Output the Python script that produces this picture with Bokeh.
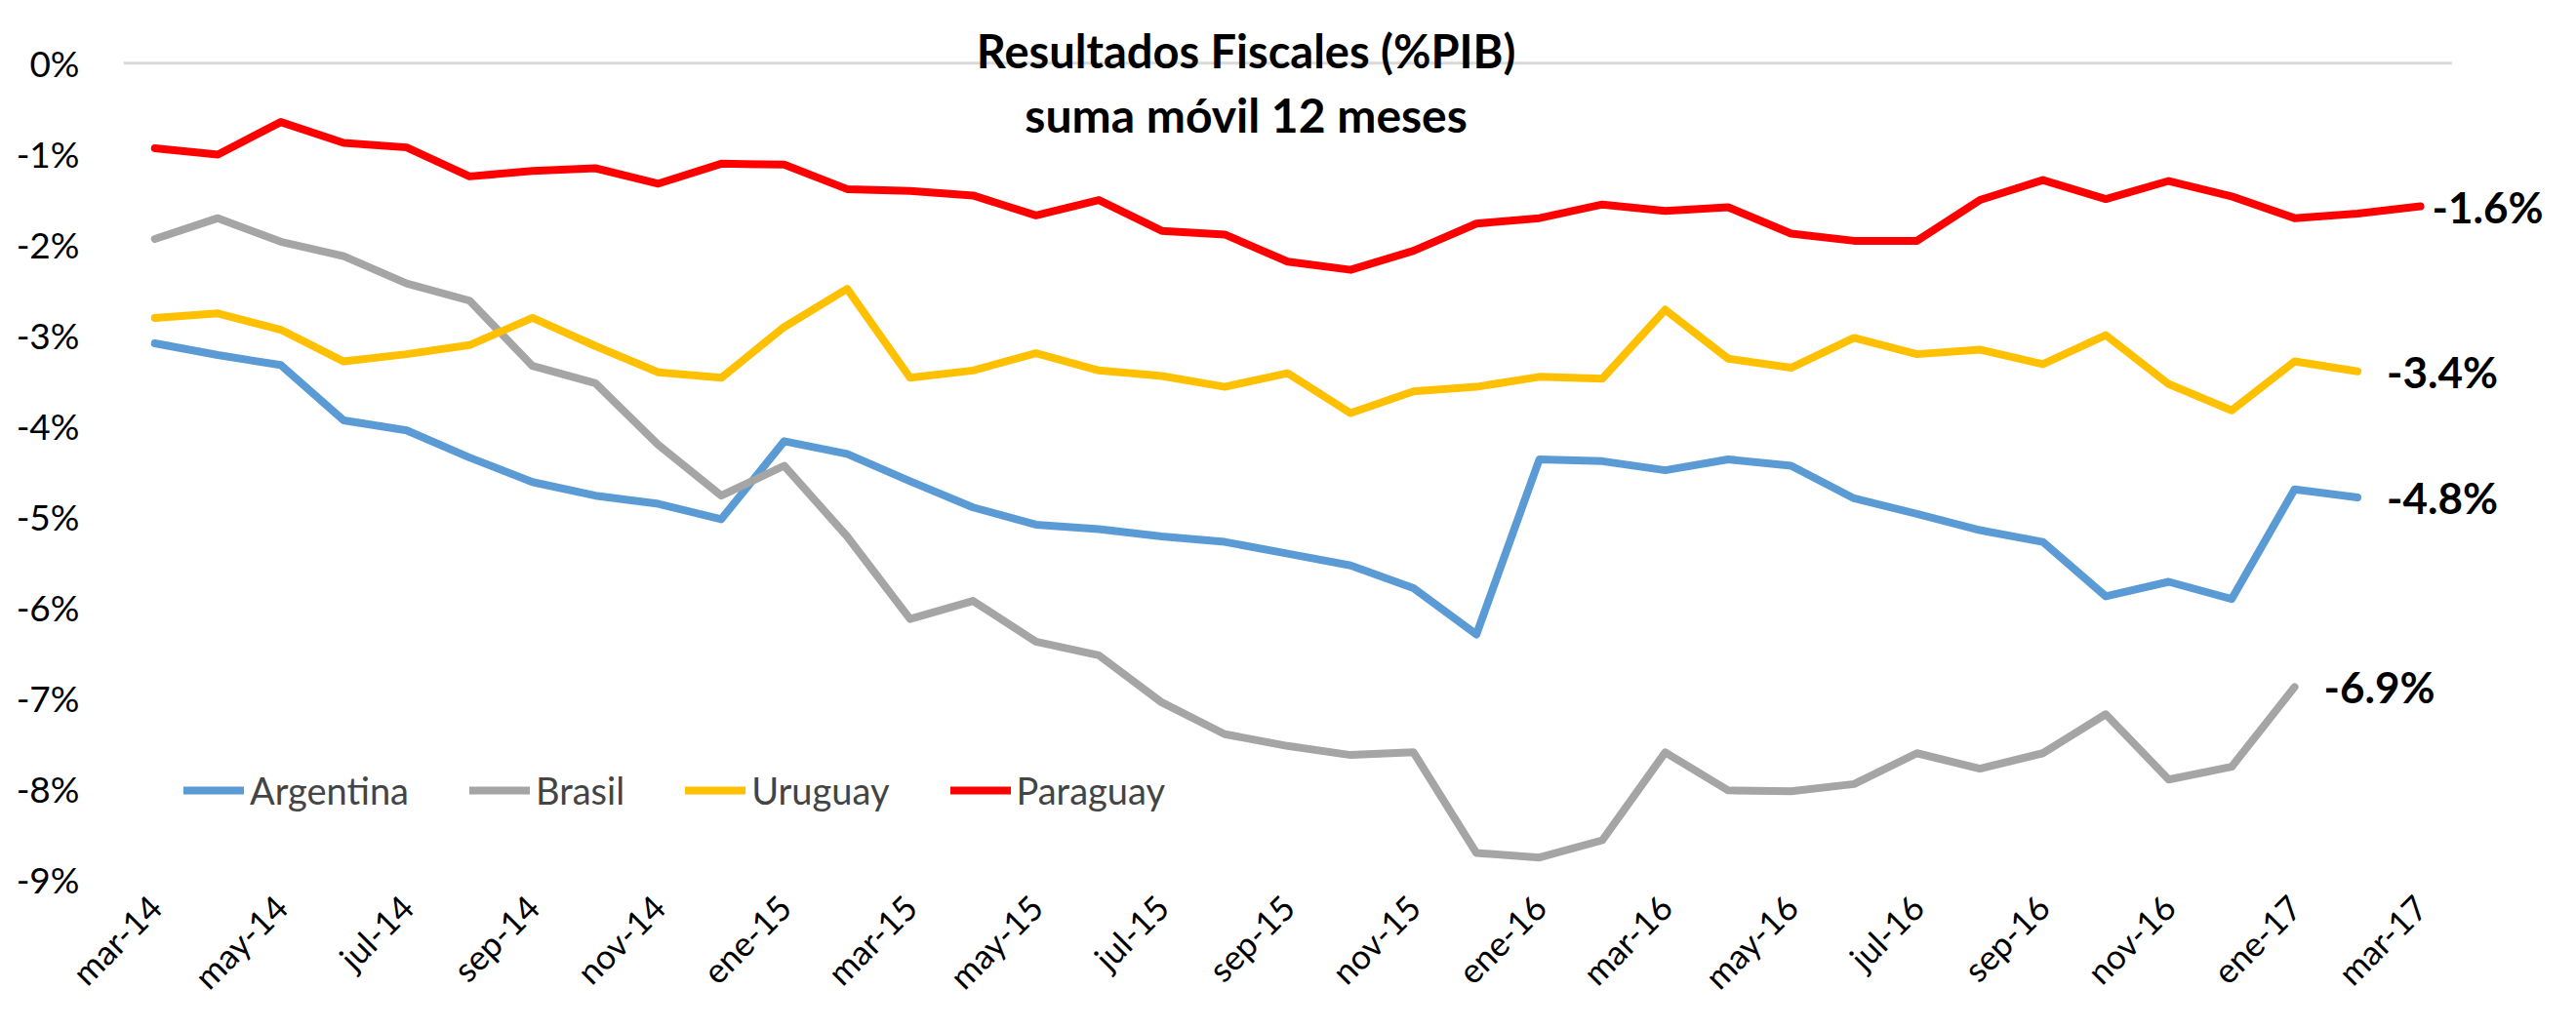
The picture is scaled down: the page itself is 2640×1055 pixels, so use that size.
import math
from bokeh.plotting import figure
from bokeh.models import Range1d, FixedTicker, Label, Legend, LegendItem, PrintfTickFormatter
from bokeh.core.properties import value
from bokeh.embed import file_html
from bokeh.resources import INLINE

months = ["mar-14", "abr-14", "may-14", "jun-14", "jul-14", "ago-14", "sep-14", "oct-14",
          "nov-14", "dic-14", "ene-15", "feb-15", "mar-15", "abr-15", "may-15", "jun-15",
          "jul-15", "ago-15", "sep-15", "oct-15", "nov-15", "dic-15", "ene-16", "feb-16",
          "mar-16", "abr-16", "may-16", "jun-16", "jul-16", "ago-16", "sep-16", "oct-16",
          "nov-16", "dic-16", "ene-17", "feb-17", "mar-17"]

argentina = [-3.09, -3.22, -3.33, -3.94, -4.05, -4.35, -4.62, -4.77, -4.86, -5.03, -4.17, -4.31,
             -4.61, -4.90, -5.09, -5.14, -5.22, -5.28, -5.41, -5.54, -5.79, -6.30, -4.37, -4.39,
             -4.49, -4.37, -4.44, -4.80, -4.97, -5.15, -5.28, -5.88, -5.72, -5.91, -4.70, -4.79]

brasil = [-1.94, -1.71, -1.97, -2.13, -2.43, -2.62, -3.34, -3.53, -4.21, -4.77, -4.44, -5.22,
          -6.13, -5.93, -6.38, -6.53, -7.05, -7.40, -7.53, -7.63, -7.60, -8.71, -8.76, -8.57,
          -7.60, -8.02, -8.03, -7.95, -7.61, -7.78, -7.61, -7.18, -7.90, -7.76, -6.88]

uruguay = [-2.81, -2.76, -2.94, -3.29, -3.21, -3.11, -2.81, -3.12, -3.41, -3.47, -2.91, -2.49,
           -3.47, -3.39, -3.20, -3.39, -3.45, -3.57, -3.42, -3.86, -3.62, -3.57, -3.46, -3.48,
           -2.72, -3.26, -3.36, -3.03, -3.21, -3.16, -3.32, -3.00, -3.54, -3.83, -3.29, -3.40]

paraguay = [-0.94, -1.01, -0.65, -0.88, -0.93, -1.25, -1.19, -1.16, -1.33, -1.11, -1.12, -1.39,
            -1.41, -1.46, -1.68, -1.51, -1.85, -1.89, -2.19, -2.28, -2.07, -1.77, -1.71, -1.56,
            -1.63, -1.59, -1.88, -1.96, -1.96, -1.51, -1.29, -1.50, -1.30, -1.47, -1.71, -1.66,
            -1.58]

series_names = ["Argentina", "Brasil", "Uruguay", "Paraguay"]
y_ticks = [0, -1, -2, -3, -4, -5, -6, -7, -8, -9]
title_lines = ["Resultados Fiscales (%PIB)", "suma móvil 12 meses"]

FONT = "Lato"
colors = ["#5B9BD5", "#A5A5A5", "#FFC000", "#FF0000"]
label_offsets = [30, 30, 30, 12]

p = figure(width=2624, height=1039, output_backend="svg", toolbar_location=None,
           x_range=Range1d(-0.5, 38.17), y_range=Range1d(-9.0, 0.55),
           min_border_left=126, min_border_right=4, min_border_top=13, min_border_bottom=138)
p.outline_line_color = None
p.xgrid.visible = False
p.ygrid.visible = False
p.background_fill_color = "white"
p.border_fill_color = "white"

n = len(months)
# zero line (category axis crossing at 0)
p.line(x=[-0.5, n - 0.5], y=[0, 0], line_color="#D9D9D9", line_width=3)

all_series = [argentina, brasil, uruguay, paraguay]
renderers = []
for name, vals, col, off in zip(series_names, all_series, colors, label_offsets):
    xs = list(range(len(vals)))
    r = p.line(x=xs, y=vals, line_color=col, line_width=8, line_join="round", line_cap="round")
    renderers.append(r)
    p.text(x=[xs[-1]], y=[vals[-1]], text=[f"{vals[-1]:.1f}%"], x_offset=off,
           text_baseline="middle", text_align="left", text_font=value(FONT),
           text_font_style="bold", text_font_size="44px", text_color="black")

# Title
mid = (n - 1) / 2 - 0.66
p.add_layout(Label(x=mid, y=0.14, text=title_lines[0], text_align="center",
                   text_baseline="alphabetic", text_font=FONT, text_font_style="bold",
                   text_font_size="47px", text_color="black"))
p.add_layout(Label(x=mid, y=-0.57, text=title_lines[1], text_align="center",
                   text_baseline="alphabetic", text_font=FONT, text_font_style="bold",
                   text_font_size="48px", text_color="black"))

# Y axis
p.yaxis.ticker = FixedTicker(ticks=y_ticks)
p.yaxis.formatter = PrintfTickFormatter(format="%d%%")
p.yaxis.axis_line_color = None
p.yaxis.major_tick_line_color = None
p.yaxis.minor_tick_line_color = None
p.yaxis.major_label_standoff = 39
p.yaxis.major_label_text_font = FONT
p.yaxis.major_label_text_font_size = "37px"
p.yaxis.major_label_text_color = "black"

# X axis
xt = list(range(0, n, 2))
p.xaxis.ticker = FixedTicker(ticks=xt)
p.xaxis.major_label_overrides = {i: months[i] for i in xt}
p.xaxis.major_label_orientation = math.pi / 4
p.xaxis.axis_line_color = None
p.xaxis.major_tick_line_color = None
p.xaxis.minor_tick_line_color = None
p.xaxis.major_label_standoff = 16
p.xaxis.major_label_text_font = FONT
p.xaxis.major_label_text_font_size = "35px"
p.xaxis.major_label_text_color = "black"

legend = Legend(items=[LegendItem(label=nm, renderers=[r]) for nm, r in zip(series_names, renderers)],
                orientation="horizontal", location=(62, 68), border_line_color=None,
                background_fill_alpha=0, label_text_font=FONT, label_text_font_size="38px",
                glyph_width=62, glyph_height=44, label_height=44, label_standoff=6,
                spacing=62, padding=0, margin=0)
p.add_layout(legend)

open("out.html", "w").write(file_html(p, INLINE))
